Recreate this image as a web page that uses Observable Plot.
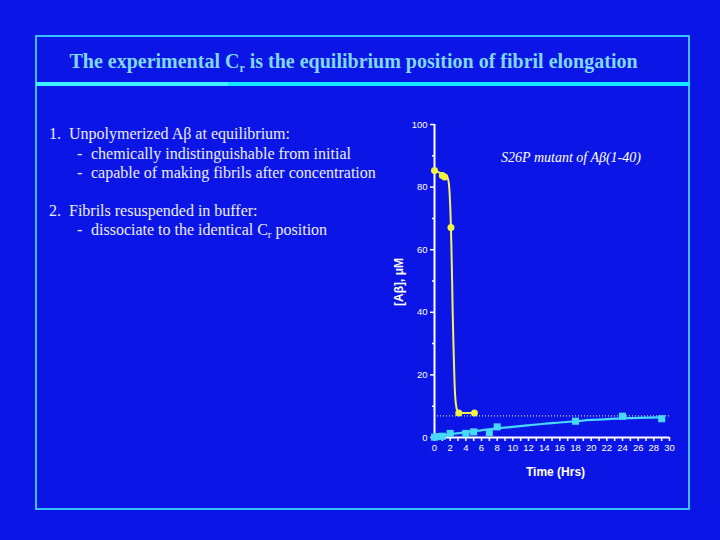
<!DOCTYPE html>
<html><head><meta charset="utf-8">
<script src="https://cdn.jsdelivr.net/npm/d3@7"></script>
<script src="https://cdn.jsdelivr.net/npm/@observablehq/plot@0.6"></script>
<style>
html,body{margin:0;padding:0;background:#0b16e6;width:720px;height:540px;overflow:hidden;}
#frame{position:absolute;left:35px;top:35px;width:651px;height:471px;border:2px solid #38c0ff;}
#bar{position:absolute;left:36px;top:82px;width:654px;height:4px;background:#12e8ff;}
#barL{position:absolute;left:36px;top:82px;width:192px;height:4px;background:#40f0ff;}
#title{position:absolute;left:0;top:51px;width:707px;text-align:center;font-family:"Liberation Serif","Times New Roman",serif;font-weight:bold;font-size:20px;line-height:20px;color:#80d8ff;white-space:nowrap;}
.sub{font-size:12px;position:relative;top:4px;}
.t{position:absolute;font-family:"Liberation Serif","Times New Roman",serif;font-size:16px;line-height:16px;color:#ececff;white-space:nowrap;}
#chart{position:absolute;left:380px;top:100px;}
</style></head>
<body>
<div id="frame"></div>
<div id="bar"></div><div id="barL"></div>
<div id="title">The experimental C<span class="sub">r</span> is the equilibrium position of fibril elongation</div>
<div class="t" style="left:49px;top:125.5px">1.</div><div class="t" style="left:69px;top:125.5px">Unpolymerized Aβ at equilibrium:</div>
<div class="t" style="left:77px;top:145.5px">-</div><div class="t" style="left:91px;top:145.5px">chemically indistinguishable from initial</div>
<div class="t" style="left:77px;top:164.5px">-</div><div class="t" style="left:91px;top:164.5px">capable of making fibrils after concentration</div>
<div class="t" style="left:49px;top:202.5px">2.</div><div class="t" style="left:69px;top:202.5px">Fibrils resuspended in buffer:</div>
<div class="t" style="left:77px;top:221.5px">-</div><div class="t" style="left:91px;top:221.5px">dissociate to the identical C<span style="font-size:11px;position:relative;top:3px">r</span> position</div>
<div id="chart"></div>
<script>
// Yellow series: unpolymerized Aβ (circles)
const yellowTime = [0, 1.0, 1.3, 2.1, 3.1, 5.1];
const yellowConc = [85.3, 83.7, 83.2, 67.1, 7.8, 7.8];
// Yellow fitted curve
const yellowFitTime = [0, 0.5, 1.0, 1.5, 1.7, 1.85, 1.95, 2.05, 2.15, 2.25, 2.32, 2.45, 2.6, 2.8, 3.0, 3.1, 5.1];
const yellowFitConc = [85.3, 84.8, 84.2, 83.6, 82.8, 80.8, 77, 71, 62, 50, 40, 27, 15, 9.5, 8.1, 7.8, 7.8];
// Cyan series: fibrils resuspended (squares)
const cyanTime = [0, 0.3, 1.0, 2.0, 4.0, 5.0, 7.0, 8.0, 18.0, 24.0, 29.0];
const cyanConc = [0.1, 0.3, 0.4, 1.3, 1.3, 1.8, 1.6, 3.4, 5.2, 6.8, 6.0];
// Cyan fitted curve
const cyanFitTime = [0, 2, 4, 6, 8, 10, 12, 14, 16, 18, 20, 22, 24, 26, 29];
const cyanFitConc = [0.1, 1.0, 1.7, 2.3, 2.9, 3.4, 3.9, 4.4, 4.8, 5.2, 5.6, 5.9, 6.1, 6.3, 6.4];
// Equilibrium Cr (dotted line)
const crLevel = 6.9;
// Ticks
const yTicksMajor = [0, 20, 40, 60, 80, 100];
const yTicksMinor = [10, 30, 50, 70, 90];
const xTicksAll = d3.range(0, 31);
const xTickLabels = [0, 2, 4, 6, 8, 10, 12, 14, 16, 18, 20, 22, 24, 26, 28, 30];

const yellow = yellowTime.map((t, i) => ({t, c: yellowConc[i]}));
const yellowFit = yellowFitTime.map((t, i) => ({t, c: yellowFitConc[i]}));
const cyan = cyanTime.map((t, i) => ({t, c: cyanConc[i]}));
const cyanFit = cyanFitTime.map((t, i) => ({t, c: cyanFitConc[i]}));

const chart = Plot.plot({
  width: 310, height: 390,
  marginLeft: 54, marginRight: 21, marginTop: 24, marginBottom: 53,
  x: {domain: [0, 30]},
  y: {domain: [0, 100]},
  style: {background: "transparent", color: "white", fontFamily: "Liberation Sans, Arial, sans-serif", fontSize: "9.5px", overflow: "visible"},
  marks: [
    Plot.axisY({ticks: yTicksMajor, tickSize: 4, tickPadding: 3, label: null, strokeWidth: 1.5}),
    Plot.axisY({ticks: yTicksMinor, tickSize: 2, tickFormat: () => "", label: null, strokeWidth: 1.5}),
    Plot.axisX({ticks: xTicksAll, tickSize: 4, tickPadding: 3, label: null, strokeWidth: 1.5,
      tickFormat: d => xTickLabels.includes(d) ? String(d) : ""}),
    Plot.ruleX([0], {y1: 0, y2: 100, stroke: "white", strokeWidth: 2}),
    Plot.ruleY([0], {x1: 0, x2: 30, stroke: "white", strokeWidth: 2}),
    Plot.ruleY([crLevel], {x1: 0, x2: 30, stroke: "white", strokeWidth: 1, strokeDasharray: "1 2"}),
    Plot.line(yellowFit, {x: "t", y: "c", stroke: "#f2f25c", strokeWidth: 2, curve: "monotone-x"}),
    Plot.line(cyanFit, {x: "t", y: "c", stroke: "#48d8ff", strokeWidth: 2.2, curve: "monotone-x"}),
    Plot.dot(yellow, {x: "t", y: "c", r: 3.5, fill: "#f4f440", stroke: "none"}),
    Plot.dot(cyan, {x: "t", y: "c", r: 4, symbol: "square", fill: "#48d8ff", stroke: "none"}),
    Plot.text(["S26P mutant of Aβ(1-40)"], {frameAnchor: "top", dx: 19, dy: 28, fill: "white",
      fontFamily: "Liberation Serif, Times New Roman, serif", fontStyle: "italic", fontSize: 14}),
    Plot.text(["[Aβ], μM"], {frameAnchor: "left", dx: -35, dy: 25, rotate: -90, fill: "white",
      fontWeight: "bold", fontSize: 12}),
    Plot.text(["Time (Hrs)"], {frameAnchor: "bottom", dx: 3.5, dy: 38.5, fill: "white",
      fontWeight: "bold", fontSize: 12})
  ]
});
document.getElementById("chart").appendChild(chart);
</script>
</body></html>
